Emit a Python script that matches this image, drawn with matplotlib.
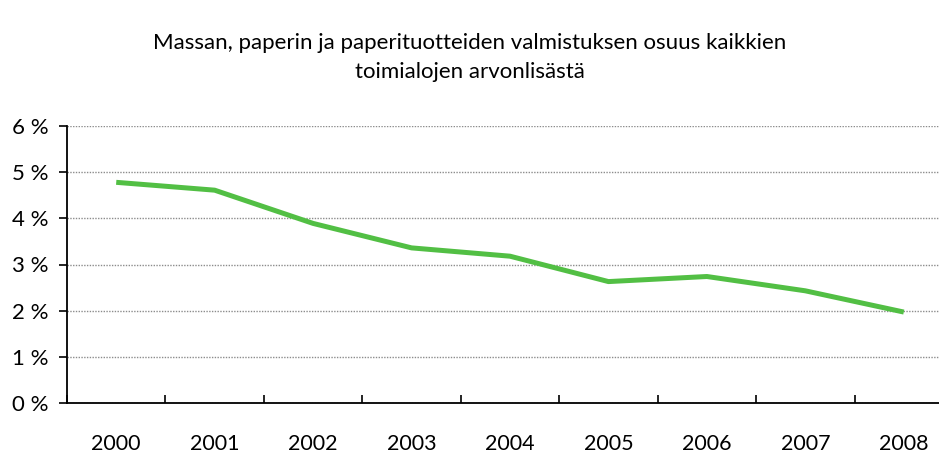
import matplotlib
matplotlib.use("Agg")
import matplotlib.pyplot as plt
from matplotlib.ticker import FuncFormatter

years = ["2000", "2001", "2002", "2003", "2004", "2005", "2006", "2007", "2008"]
share = [4.78, 4.61, 3.89, 3.36, 3.18, 2.63, 2.74, 2.43, 1.97]

plt.rcParams['font.family'] = ['Lato', 'DejaVu Sans']

fig = plt.figure(figsize=(9.39, 4.55), dpi=100)
# plot area runs off the right edge, like the original
ax = fig.add_axes([67/939, (455-403)/455, (953-67)/939, (403-126)/455])

x = list(range(len(years)))
ax.plot(x, share, color="#52bf44", linewidth=3.6, solid_capstyle="butt", zorder=3)

ax.set_xlim(-0.5, len(years) - 0.5)
ax.set_ylim(0, 6)
ax.set_yticks(range(0, 7))
ax.yaxis.set_major_formatter(FuncFormatter(lambda v, p: "%d %%" % v))
ax.set_xticks(x)
ax.set_xticklabels(years)
ax.set_xticks([i + 0.5 for i in range(-1, len(years))], minor=True)

ax.tick_params(axis="x", which="major", length=0, pad=22, labelsize=15.5)
ax.tick_params(axis="x", which="minor", length=6, width=1.2, direction="in", color="black")
ax.tick_params(axis="y", length=6, width=1.2, direction="out", pad=7, labelsize=16)

ax.grid(axis="y", color="#8c8c8c", linestyle=(0, (1, 1)), linewidth=1)
for s in ["top", "right"]:
    ax.spines[s].set_visible(False)
ax.spines["left"].set_linewidth(1.3)
ax.spines["bottom"].set_linewidth(1.3)

fig.text(0.5, 1 - 43/455, "Massan, paperin ja paperituotteiden valmistuksen osuus kaikkien",
         ha="center", va="center", fontsize=16)
fig.text(0.5, 1 - 72/455, "toimialojen arvonlisästä", ha="center", va="center", fontsize=16)

fig.savefig("out.png", dpi=100)
